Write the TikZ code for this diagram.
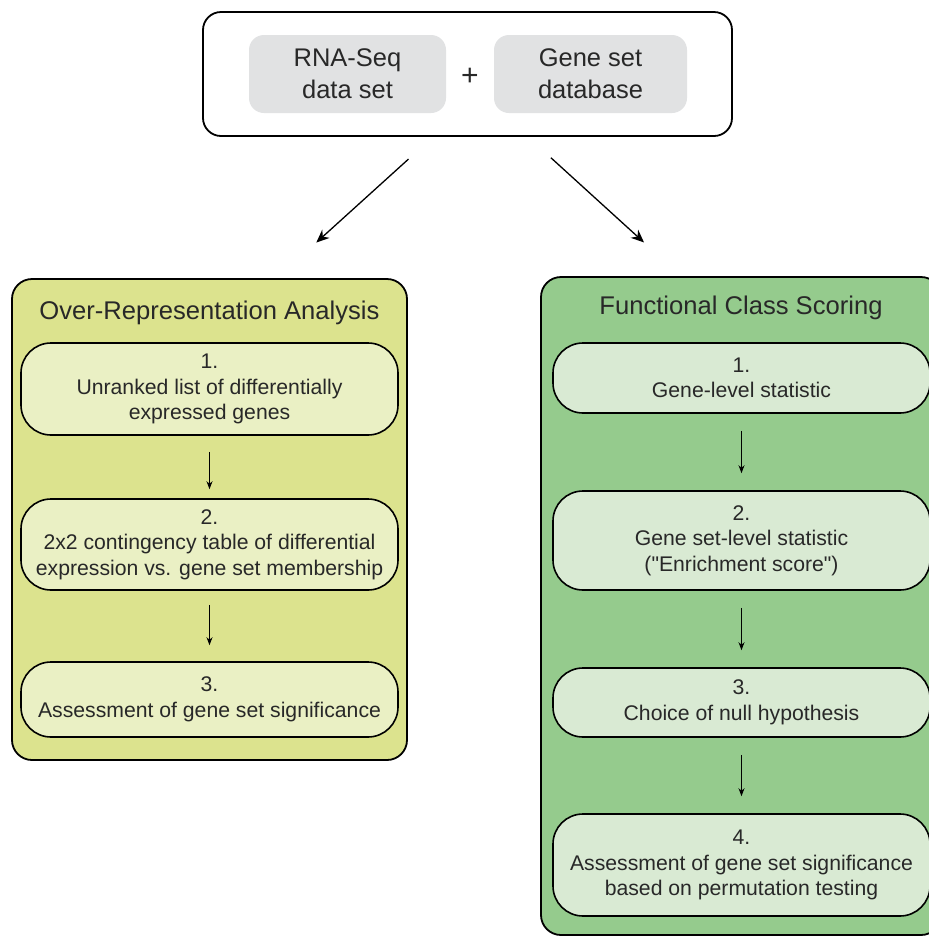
\documentclass[tikz,border=0pt]{standalone}
\usepackage{fontspec}
\setmainfont{Liberation Sans}[Ligatures=TeXOff]
\usetikzlibrary{arrows.meta,positioning}
\definecolor{oraback}{RGB}{220,227,142}
\definecolor{orastep}{RGB}{234,240,196}
\definecolor{fcsback}{RGB}{149,203,141}
\definecolor{fcsstep}{RGB}{217,234,211}
\definecolor{datagray}{RGB}{225,226,227}
\definecolor{textgray}{RGB}{40,40,40}
\tikzset{every node/.style={ % Sets the properties for each node
            text=textgray,
            align=center,
            inner sep=0pt},
        inputbox/.style={ % Outer box round the two inputs
            draw, line width=1.8pt, rounded corners=18pt, fill=white},
        databox/.style={ % Gray input boxes
            fill=datagray, rounded corners=15pt, minimum height=78pt,
            font=\fontsize{25.5}{32}\selectfont},
        panel/.style={ % Big coloured method panels
            draw, line width=1.8pt, rounded corners=20pt},
        paneltitle/.style={
            font=\fontsize{25.6}{30}\selectfont},
        stepbox/.style={ % Steps inside a panel
            draw, line width=1.6pt, rounded corners=30pt, minimum width=377pt,
            font=\fontsize{21.2}{25.5}\selectfont},
        bigarrow/.style={ % Arrows from the inputs to the panels
            draw, line width=1.3pt, -{Stealth[length=13pt,width=11pt]}},
        smallarrow/.style={ % Arrows between steps
            draw, line width=1pt, -{Stealth[length=8pt,width=6pt]},
            shorten <=17pt, shorten >=17pt}
        }

\begin{document}
\begin{tikzpicture}[x=1pt,y=-1pt]
    \useasboundingbox (0,0) rectangle (929,938);
    \clip (0,0) rectangle (929,938);

    % inputs
    \node[inputbox, minimum width=529pt, minimum height=124pt] (input) at (467.5,74) {};
    \node[databox, minimum width=197pt] (rnaseq) at (347.5,74) {RNA-Seq\\data set};
    \node[databox, minimum width=193pt] (genesets) at (590.5,74) {Gene set\\database};
    \node[font=\fontsize{30}{30}\selectfont] (plus) at (470,77) {+};

    % the two panels
    \node[panel, fill=oraback, minimum width=395pt, minimum height=481pt] (ora) at (209.5,519.5) {};
    \node[panel, fill=fcsback, minimum width=400pt, minimum height=658pt] (fcs) at (741,606) {};
    \node[paneltitle] (oratitle) at (209.5,313) {Over-Representation Analysis};
    \node[paneltitle] (fcstitle) at (741,308) {Functional Class Scoring};

    % over-representation steps
    \node[stepbox, fill=orastep, minimum height=92pt] (ora1) at (209.5,389) {1.\\Unranked list of differentially\\expressed genes};
    \node[stepbox, fill=orastep, minimum height=91pt] (ora2) at (209.5,544.5) {2.\\2x2 contingency table of differential\\expression vs. gene set membership};
    \node[stepbox, fill=orastep, minimum height=75pt] (ora3) at (209.5,699.5) {3.\\Assessment of gene set significance};

    % functional class scoring steps
    \node[stepbox, fill=fcsstep, minimum height=70pt] (fcs1) at (741.5,378) {1.\\Gene-level statistic};
    \node[stepbox, fill=fcsstep, minimum height=99pt] (fcs2) at (741.5,540.5) {2.\\Gene set-level statistic\\("Enrichment score")};
    \node[stepbox, fill=fcsstep, minimum height=69pt] (fcs3) at (741.5,702.5) {3.\\Choice of null hypothesis};
    \node[stepbox, fill=fcsstep, minimum height=102pt] (fcs4) at (741.5,865) {4.\\Assessment of gene set significance\\based on permutation testing};

    \draw[bigarrow, shorten <=33pt, shorten >=53pt]
        ([xshift=-34.5pt]input.south) -- ([xshift=67.5pt]ora.north);
    \draw[bigarrow, shorten <=31pt, shorten >=50pt]
        ([xshift=60.5pt]input.south) -- ([xshift=-60pt]fcs.north);

    \draw[smallarrow, shorten <=16pt, shorten >=9pt] (ora1) -- (ora2);
    \draw[smallarrow, shorten <=14pt, shorten >=16pt] (ora2) -- (ora3);
    \draw[smallarrow] (fcs1) -- (fcs2);
    \draw[smallarrow] (fcs2) -- (fcs3);
    \draw[smallarrow] (fcs3) -- (fcs4);
\end{tikzpicture}
\end{document}
